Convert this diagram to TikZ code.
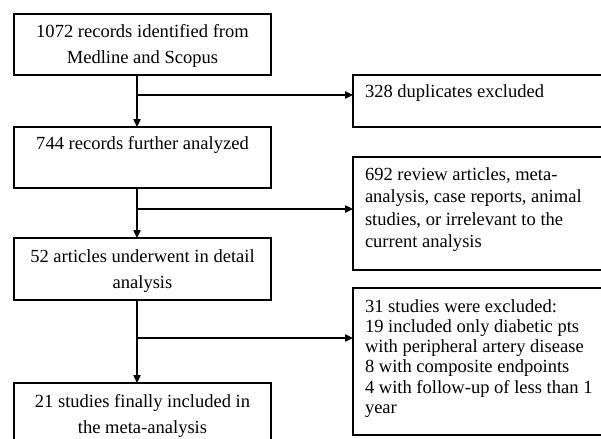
\documentclass[tikz,border=0pt]{standalone}
\usepackage{fontspec}
\setmainfont{Liberation Serif}
\usetikzlibrary{arrows.meta}
\newlength\pxu
\setlength\pxu{0.75pt}
\newcommand\lbox[3]{\parbox[t][#1\pxu][t]{257\pxu}{\fontsize{13.9}{19.5}\selectfont\centering\rule{0pt}{#2\pxu}#3}}
\newcommand\rbox[4]{\parbox[t][#1\pxu][t]{260\pxu}{\fontsize{13.9}{#3}\selectfont\raggedright\leftskip=12\pxu\rule{0pt}{#2\pxu}#4}}
\begin{document}
\begin{tikzpicture}[x=0.75pt,y=-0.75pt,
  box/.style={draw, line width=1pt, anchor=north west, inner sep=0pt, outer sep=0pt},
  conn/.style={line width=1pt},
  arr/.style={line width=1pt, -{Triangle[length=6pt,width=5.5pt]}}]
\useasboundingbox (0,0) rectangle (601,439);
\clip (0,0) rectangle (601,439);
\fill[white] (0,0) rectangle (601,439);
% left column
\node[box] (b1) at (14,14) {\lbox{61}{23}{1072 records identified from\\Medline and Scopus}};
\node[box] (b2) at (14,127) {\lbox{61}{22}{744 records further analyzed}};
\node[box] (b3) at (14,238) {\lbox{62}{24}{52 articles underwent in detail\\analysis}};
\node[box] (b4) at (14,383) {\lbox{70}{24}{21 studies finally included in\\the meta-analysis}};
% right column
\node[box] (r1) at (353,75) {\rbox{52}{23}{16.9}{328 duplicates excluded}};
\node[box] (r2) at (353,157) {\rbox{113}{23}{16.9}{692 review articles, meta-\\analysis, case reports, animal\\studies, or irrelevant to the\\current analysis}};
\node[box] (r3) at (353,288) {\rbox{147}{24}{15.2}{31 studies were excluded:\\19 included only diabetic pts\\with peripheral artery disease\\8 with composite endpoints\\4 with follow-up of less than 1\\year}};
% junctions
\coordinate (j1) at (137,95);
\coordinate (j2) at (137,209);
\coordinate (j3) at (137,338);
\draw[arr] (b1.south -| j1) -- (b2.north -| j1);
\draw[arr] (b2.south -| j2) -- (b3.north -| j2);
\draw[arr] (b3.south -| j3) -- (b4.north -| j3);
\draw[arr] (j1) -- (j1 -| r1.west);
\draw[arr] (j2) -- (j2 -| r2.west);
\draw[arr] (j3) -- (j3 -| r3.west);
\end{tikzpicture}
\end{document}
